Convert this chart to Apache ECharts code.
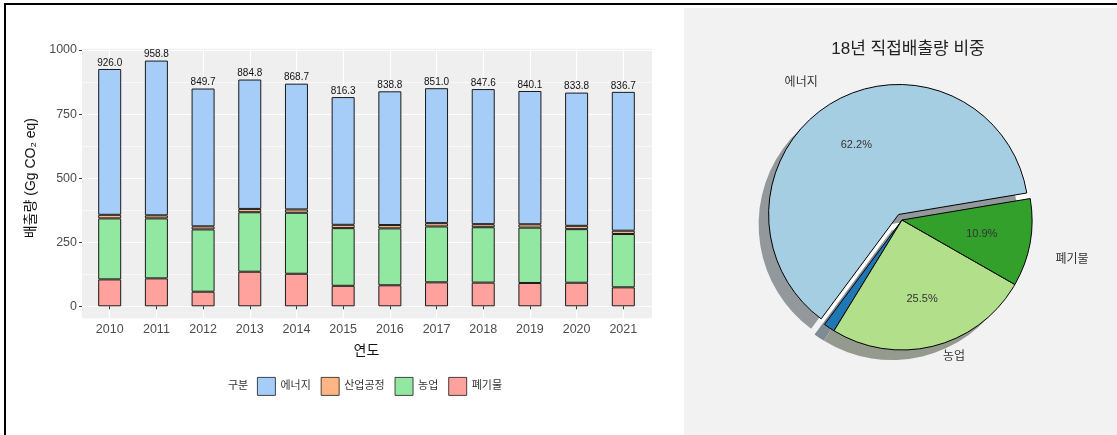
<!DOCTYPE html>
<html>
<head>
<meta charset="utf-8">
<script src="https://cdn.jsdelivr.net/npm/echarts@6/dist/echarts.min.js"></script>
<style>
  html, body { margin: 0; padding: 0; background: #fff; }
  #chart { width: 1117px; height: 435px; }
</style>
</head>
<body>
<div id="chart"></div>
<script>
// 연도별 배출량 (Gg CO2 eq)
const years = ['2010', '2011', '2012', '2013', '2014', '2015', '2016', '2017', '2018', '2019', '2020', '2021']
const energy = [569.0, 603.8, 537.7, 504.8, 490.7, 498.3, 521.8, 526.5, 527.2, 520.1, 519.8, 541.7]
const industry = [14, 12, 12, 13, 13, 13, 13, 13, 11.9, 13, 13, 13]
const agriculture = [238, 234, 243, 232, 238, 225, 222, 218, 216.1, 216, 209, 208]
const waste = [105, 109, 57, 135, 127, 80, 82, 93.5, 92.4, 91, 92, 74]
const totals = [926.0, 958.8, 849.7, 884.8, 868.7, 816.3, 838.8, 851.0, 847.6, 840.1, 833.8, 836.7]
const yTicks = [0, 250, 500, 750, 1000]

// 18년 비중
const pieNames = ['에너지', '산업공정', '농업', '폐기물']
const pieValues = [62.2, 1.4, 25.5, 10.9]

const FONT = '"Liberation Sans", "Noto Sans CJK KR", sans-serif'
const barColors = { '에너지': '#a6cdf8', '산업공정': '#ffb584', '농업': '#93e8a1', '폐기물': '#ffa19c' }
const pieColors = ['#a6cee3', '#1f78b4', '#b2df8a', '#33a02c']
const shadowColors = ['#92989b', '#7e8b94', '#949b8e', '#81917f']

const chart = echarts.init(document.getElementById('chart'))

const barSeries = (name, data) => ({
  name,
  type: 'bar',
  stack: 'total',
  xAxisIndex: 1,
  yAxisIndex: 1,
  barWidth: 23,
  clip: false,
  data,
  itemStyle: { color: barColors[name], borderColor: '#1a1a1a', borderWidth: 1 },
  emphasis: { disabled: true }
})

const energySeries = barSeries('에너지', energy)
energySeries.label = {
  show: true,
  position: 'top',
  distance: 1,
  color: '#111',
  fontSize: 10,
  fontFamily: FONT,
  formatter: p => totals[p.dataIndex].toFixed(1)
}

const pieBase = {
  type: 'pie',
  center: [902, 220],
  startAngle: 9.5,
  clockwise: false,
  selectedMode: 'single',
  selectedOffset: 6.5,
  avoidLabelOverlap: false,
  silent: true,
  emphasis: { disabled: true }
}

const pieData = (colors, opts) => pieNames.map((n, i) => Object.assign({
  name: n,
  value: pieValues[i],
  selected: i === 0,
  itemStyle: { color: colors[i] }
}, opts ? opts(i) : {}))

chart.setOption({
  animation: false,
  textStyle: { fontFamily: FONT },
  graphic: [
    { type: 'rect', z: -10, shape: { x: 5, y: 4, width: 1200, height: 600 }, style: { fill: '#fff', stroke: '#000', lineWidth: 2 } },
    { type: 'rect', z: -9, shape: { x: 684, y: 8, width: 440, height: 440 }, style: { fill: '#f2f2f2' } },
    { type: 'rect', z: -9, shape: { x: 82, y: 48.7, width: 570, height: 269.6 }, style: { fill: '#efefef' } },
    { type: 'text', z: 5, left: 228, top: 380, style: { text: '구분', fontSize: 11, fill: '#333', fontFamily: FONT } }
  ],
  title: {
    text: '18년 직접배출량 비중',
    left: 903,
    top: 36,
    textAlign: 'center',
    textStyle: { fontSize: 17, fontWeight: 'normal', color: '#222', fontFamily: FONT }
  },
  legend: {
    left: 257,
    top: 377,
    padding: 0,
    icon: 'rect',
    itemWidth: 18,
    itemHeight: 18,
    itemGap: 10,
    itemStyle: { borderWidth: 0.8 },
    data: ['에너지', '산업공정', '농업', '폐기물'],
    textStyle: { fontSize: 11, color: '#333', fontFamily: FONT },
    selectedMode: false
  },
  grid: [
    { left: 82, top: 50, width: 570, height: 256.3, containLabel: false },
    { left: 109.7, top: 48.7, width: 513.6, height: 269.6, containLabel: false }
  ],
  xAxis: [
    { type: 'category', gridIndex: 0, data: years, show: false },
    {
      type: 'category',
      gridIndex: 1,
      data: years,
      boundaryGap: false,
      name: '연도',
      nameLocation: 'middle',
      nameGap: 26,
      nameTextStyle: { fontSize: 14, color: '#111', fontFamily: FONT },
      axisLine: { show: false },
      axisTick: { show: true, length: 3, interval: 0, lineStyle: { color: '#333' } },
      axisLabel: { interval: 0, margin: 5, fontSize: 12.5, color: '#4d4d4d', fontFamily: FONT },
      splitLine: { show: true, interval: 0, lineStyle: { color: '#fff', width: 1.2 } }
    }
  ],
  yAxis: [
    {
      type: 'value',
      gridIndex: 0,
      min: yTicks[0],
      max: yTicks[yTicks.length - 1],
      interval: 250,
      name: '배출량 (Gg CO₂ eq)',
      nameLocation: 'middle',
      nameRotate: 90,
      nameGap: 42,
      nameTextStyle: { fontSize: 14, color: '#111', fontFamily: FONT },
      axisLine: { show: false },
      axisTick: { show: true, length: 3, lineStyle: { color: '#333' } },
      axisLabel: { margin: 5, fontSize: 12.5, color: '#4d4d4d', fontFamily: FONT, formatter: v => String(v) },
      splitLine: { show: true, lineStyle: { color: '#fff', width: 1.2 } },
      minorTick: { show: false, splitNumber: 2 },
      minorSplitLine: { show: true, lineStyle: { color: '#fff', width: 0.6 } }
    },
    { type: 'value', gridIndex: 1, min: -46.8, max: 1005.1, show: false, splitLine: { show: false } }
  ],
  series: [
    barSeries('폐기물', waste),
    barSeries('농업', agriculture),
    barSeries('산업공정', industry),
    energySeries,
    // 파이 바탕 (흰색)
    Object.assign({}, pieBase, {
      radius: 130,
      selectedOffset: 0,
      label: { show: false },
      labelLine: { show: false },
      data: pieData(['#fff', '#fff', '#fff', '#fff'], () => ({ selected: false }))
    }),
    // 그림자
    Object.assign({}, pieBase, {
      center: [892, 230],
      radius: 130,
      label: { show: false },
      labelLine: { show: false },
      data: pieData(shadowColors)
    }),
    // 본 파이 + 바깥 이름
    Object.assign({}, pieBase, {
      radius: 130,
      itemStyle: { borderColor: '#000', borderWidth: 1 },
      label: {
        show: true,
        position: 'outside',
        fontSize: 12,
        color: '#333',
        fontFamily: FONT,
        distanceToLabelLine: 0,
        formatter: '{b}'
      },
      labelLine: { show: false, length: 13, length2: 0 },
      labelLayout: p => (p.dataIndex === 3 ? { dy: 12, dx: -3 } : p.dataIndex === 2 ? { dx: 6 } : {}),
      data: pieData(pieColors, i => ({
        label: { show: i !== 1 },
        labelLine: { show: false, length: [25, 13, 11, 29][i], length2: 0 }
      }))
    }),
    // 퍼센트 라벨
    Object.assign({}, pieBase, {
      radius: [26, 130],
      itemStyle: { color: 'rgba(0,0,0,0)' },
      label: {
        show: true,
        position: 'inside',
        fontSize: 11,
        color: '#333',
        fontFamily: FONT,
        formatter: p => p.value.toFixed(1) + '%'
      },
      labelLine: { show: false },
      data: pieData(['rgba(0,0,0,0)', 'rgba(0,0,0,0)', 'rgba(0,0,0,0)', 'rgba(0,0,0,0)'], i => ({
        label: { show: i !== 1 }
      }))
    })
  ]
})

window.addEventListener('resize', () => chart.resize())
</script>
</body>
</html>
